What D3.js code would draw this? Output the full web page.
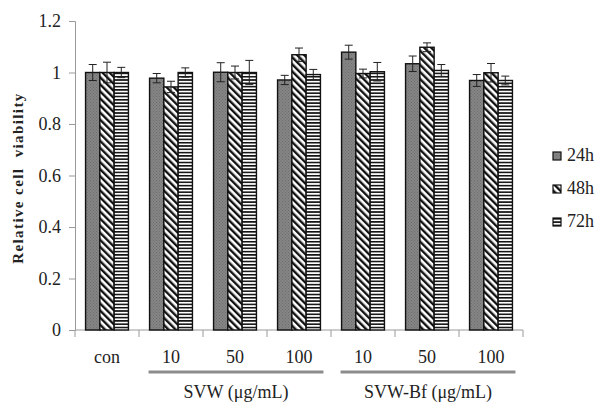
<!DOCTYPE html>
<meta charset="utf-8">
<style>
body { margin: 0; background: #fff; }
text { font-family: "Liberation Serif", "DejaVu Serif", serif; fill: #222; }
.axis path, .axis line { stroke: #9a9a9a; }
</style>
<svg width="598" height="405"></svg>
<script src="https://d3js.org/d3.v7.min.js"></script>
<script>

var categories = ["con", "10", "50", "100", "10", "50", "100"];
var series = ["24h", "48h", "72h"];
var v24 = [1.00, 0.978, 1.001, 0.971, 1.079, 1.034, 0.969];
var v48 = [1.00, 0.944, 1.00, 1.069, 0.996, 1.098, 0.999];
var v72 = [1.00, 1.00, 1.00, 0.992, 1.003, 1.008, 0.969];
var e24 = [0.031, 0.018, 0.037, 0.018, 0.027, 0.03, 0.023];
var e48 = [0.04, 0.022, 0.025, 0.026, 0.017, 0.017, 0.036];
var e72 = [0.02, 0.018, 0.047, 0.02, 0.036, 0.023, 0.017];
var yTicks = [0, 0.2, 0.4, 0.6, 0.8, 1, 1.2];
var groups = [
  {label: "SVW (\u03bcg/mL)", from: 1, to: 3},
  {label: "SVW-Bf (\u03bcg/mL)", from: 4, to: 6}
];

var values = [v24, v48, v72];
var errors = [e24, e48, e72];

var svg = d3.select("svg");

var x0 = d3.scaleBand()
    .domain(d3.range(categories.length))
    .range([75, 523])
    .paddingInner(0.33)
    .paddingOuter(0.165);

var x1 = d3.scaleBand()
    .domain(d3.range(series.length))
    .range([0, x0.bandwidth()]);

var y = d3.scaleLinear().domain([0, 1.2]).range([330, 21]);

// fill patterns
var defs = svg.append("defs");
var p0 = defs.append("pattern").attr("id", "pat0")
    .attr("patternUnits", "userSpaceOnUse").attr("width", 3).attr("height", 3);
p0.append("rect").attr("width", 3).attr("height", 3).attr("fill", "#858585");
p0.append("rect").attr("width", 1).attr("height", 1).attr("fill", "#6e6e6e");
p0.append("rect").attr("x", 1.5).attr("y", 1.5).attr("width", 1).attr("height", 1).attr("fill", "#6e6e6e");

var p1 = defs.append("pattern").attr("id", "pat1")
    .attr("patternUnits", "userSpaceOnUse").attr("width", 5).attr("height", 5)
    .attr("patternTransform", "rotate(-45)");
p1.append("rect").attr("width", 5).attr("height", 5).attr("fill", "#fff");
p1.append("rect").attr("width", 2.4).attr("height", 5).attr("fill", "#111");

var p2 = defs.append("pattern").attr("id", "pat2")
    .attr("patternUnits", "userSpaceOnUse").attr("width", 4).attr("height", 3.3);
p2.append("rect").attr("width", 4).attr("height", 3.3).attr("fill", "#fff");
p2.append("rect").attr("width", 4).attr("height", 1.6).attr("fill", "#111");

// y axis
svg.append("g").attr("class", "axis")
    .attr("transform", "translate(75,0)")
    .call(d3.axisLeft(y).tickValues(yTicks).tickSize(6).tickPadding(8)
      .tickFormat(function(d) { return d3.format("")(d); }))
    .call(function(g) {
      g.selectAll("text").style("font-size", "18px")
        .style("font-family", "'Liberation Serif', serif").attr("fill", "#222");
    });

// x axis baseline, ticks at category boundaries
var xa = svg.append("g").attr("class", "axis");
xa.append("line").attr("x1", 75).attr("x2", 523).attr("y1", y(0)).attr("y2", y(0));
var bounds = d3.range(categories.length + 1).map(function(i) { return 75 + i * x0.step(); });
xa.selectAll(".tk").data(bounds).enter().append("line")
    .attr("x1", function(d) { return d; }).attr("x2", function(d) { return d; })
    .attr("y1", y(0)).attr("y2", y(0) + 7);

svg.selectAll(".cat").data(categories).enter().append("text")
    .attr("x", function(d, i) { return x0(i) + x0.bandwidth() / 2; })
    .attr("y", 363)
    .attr("text-anchor", "middle")
    .style("font-size", "18px")
    .text(function(d) { return d; });

// bars
var bars = svg.append("g");
values.forEach(function(vals, s) {
  bars.selectAll(".b" + s).data(vals).enter().append("rect")
      .attr("x", function(d, i) { return x0(i) + x1(s); })
      .attr("width", x1.bandwidth())
      .attr("y", function(d) { return y(d); })
      .attr("height", function(d) { return y(0) - y(d); })
      .attr("fill", "url(#pat" + s + ")")
      .attr("stroke", "#111")
      .attr("stroke-width", 1.4);
});

// error bars
values.forEach(function(vals, s) {
  var g = svg.append("g").attr("stroke", "#222").attr("stroke-width", 1);
  vals.forEach(function(v, i) {
    var cx = x0(i) + x1(s) + x1.bandwidth() / 2;
    var lo = y(v - errors[s][i]), hi = y(v + errors[s][i]);
    g.append("line").attr("x1", cx).attr("x2", cx).attr("y1", lo).attr("y2", hi);
    g.append("line").attr("x1", cx - 4).attr("x2", cx + 4).attr("y1", hi).attr("y2", hi);
    g.append("line").attr("x1", cx - 4).attr("x2", cx + 4).attr("y1", lo).attr("y2", lo);
  });
});

// group brackets
groups.forEach(function(gr) {
  var xs = x0(gr.from) - 1, xe = x0(gr.to) + x0.bandwidth() + 3;
  svg.append("line").attr("x1", xs).attr("x2", xe).attr("y1", 372).attr("y2", 372)
      .attr("stroke", "#8c8c8c").attr("stroke-width", 3);
  svg.append("text").attr("x", (xs + xe) / 2).attr("y", 398)
      .attr("text-anchor", "middle").style("font-size", "18px").text(gr.label);
});

// y title
svg.append("text")
    .attr("transform", "translate(23,178) rotate(-90)")
    .attr("text-anchor", "middle")
    .style("font-size", "15px").style("font-weight", "bold")
    .style("letter-spacing", "1.4px")
    .style("white-space", "pre")
    .text("Relative cell  viability");

// legend
var lg = svg.append("g").attr("transform", "translate(553,152)");
series.forEach(function(name, s) {
  var row = lg.append("g").attr("transform", "translate(0," + (s * 33) + ")");
  row.append("rect").attr("width", 8).attr("height", 8)
      .attr("fill", "url(#pat" + s + ")").attr("stroke", "#111").attr("stroke-width", 1.2);
  row.append("text").attr("x", 14).attr("y", 9).style("font-size", "18px").text(name);
});

</script>
